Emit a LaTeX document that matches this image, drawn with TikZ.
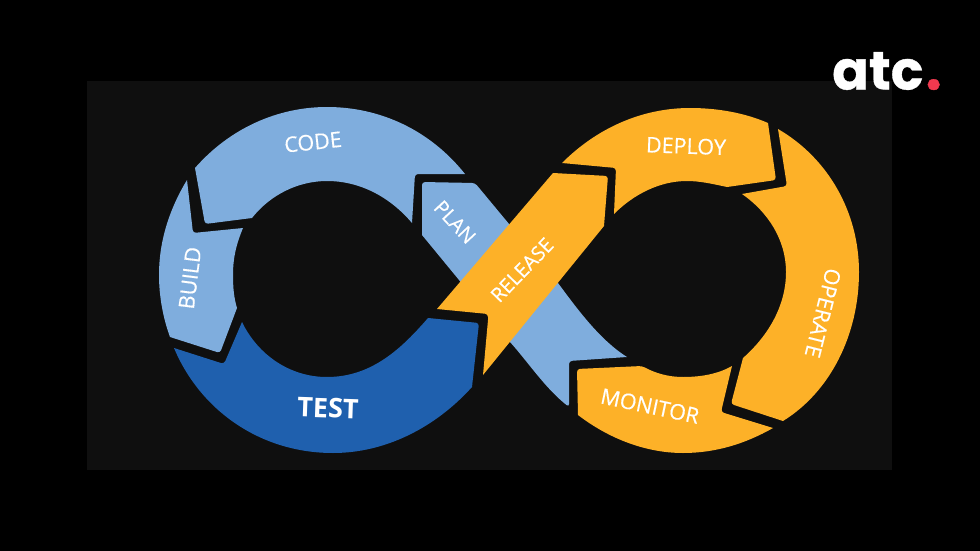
\documentclass[tikz,border=0pt]{standalone}
\usepackage{fontspec}
\setmainfont{Open Sans}[RawFeature={embolden=0.4}]
\newfontfamily\boldlabelfont{Open Sans}
\newfontfamily\logofont{Poppins}[RawFeature={embolden=0.6}]
\usepackage{tikz}
\definecolor{panelgrey}{HTML}{0F0F0F}
\definecolor{lightblue}{HTML}{7FADDD}
\definecolor{darkblue}{HTML}{1F60AE}
\definecolor{amber}{HTML}{FDB128}
\definecolor{dotred}{HTML}{F0394F}
\tikzset{
  seglabel/.style={text=white, inner sep=0pt, font=\fontsize{20}{24}\selectfont},
  wideseg/.style={seglabel, font=\fontsize{21.5}{24}\selectfont},
  corner/.style={rounded corners=3pt}
}

\begin{document}
\begin{tikzpicture}[x=1pt, y=-1pt]
\useasboundingbox (0,0) rectangle (980,551);
\fill[black] (0,0) rectangle (980,551);
\fill[panelgrey] (87,81) rectangle (892,470);

% blue half
\fill[lightblue] (422,235) [corner] -- (422,182) -- (475,183) [sharp corners] -- (558,283)
  .. controls (578,310) and (600,340) .. (627,357) [corner] -- (569,361) -- (569,407) [sharp corners]
  .. controls (545,388) and (528,362) .. (510,342) -- cycle;
\fill[lightblue] (195,168) .. controls (230,128) and (278,107) .. (327,107)
  .. controls (380,107) and (430,130) .. (465,174) [corner] -- (415,174) [sharp corners] -- (412,223)
  .. controls (390,197) and (360,181) .. (327,181)
  .. controls (298,181) and (270,195) .. (252,218) [corner] -- (205,224) [sharp corners] -- cycle;
\fill[lightblue] (187,180) [corner] -- (193,233) [sharp corners] -- (243,228)
  .. controls (236,245) and (233,258) .. (233,275)
  .. controls (233,288) and (234,298) .. (237,308) [corner] -- (220,353) [sharp corners] -- (170,337)
  .. controls (163,318) and (159,296) .. (159,275)
  .. controls (159,240) and (170,208) .. (187,180) -- cycle;
\fill[darkblue] (174,348) [corner] -- (224,364) [sharp corners] -- (242,322)
  .. controls (258,355) and (290,377) .. (327,377)
  .. controls (372,377) and (402,348) .. (428,318) [corner] -- (479,323) [sharp corners] -- (472,387)
  .. controls (435,428) and (385,453) .. (333,453)
  .. controls (260,453) and (200,410) .. (174,348) -- cycle;

% amber half
\fill[amber] (553,173) [corner] -- (608,176) [sharp corners] -- (604,226) -- (483,375) -- (488,320)
  [corner] -- (488,314) [sharp corners] -- (437,309) -- cycle;
\fill[amber] (562,163) .. controls (597,128) and (642,108) .. (690,108)
  .. controls (718,108) and (745,113) .. (768,123) [corner] -- (776,180) [sharp corners] -- (727,187)
  .. controls (713,184) and (700,181) .. (687,181)
  .. controls (660,181) and (634,194) .. (614,214) [corner] -- (616,168) [sharp corners] -- cycle;
\fill[amber] (778,129) .. controls (828,158) and (859,212) .. (859,272)
  .. controls (859,335) and (830,392) .. (783,421) [corner] -- (731,404) [sharp corners] -- (743,358)
  .. controls (769,335) and (786,305) .. (786,272)
  .. controls (786,240) and (768,212) .. (742,194) [corner] -- (787,186) [sharp corners] -- cycle;
\fill[amber] (578,415) [corner] -- (577,369) -- (642,366) [sharp corners]
  .. controls (655,373) and (668,377) .. (683,377)
  .. controls (701,377) and (718,374) .. (732,366) [corner] -- (721,412) [sharp corners] -- (773,428)
  .. controls (745,444) and (715,453) .. (683,453)
  .. controls (645,453) and (608,438) .. (578,415) -- cycle;

% labels
\node[wideseg, rotate=6] (code) at (313,142) {CODE};
\node[wideseg, rotate=83] (build) at (190,278) {BUILD};
\node[seglabel, rotate=-47] (plan) at (455,222) {PLAN};
\node[seglabel, rotate=46] (release) at (522,270) {RELEASE};
\node[wideseg, rotate=-2] (deploy) at (686,146) {DEPLOY};
\node[wideseg, rotate=-104] (operate) at (823,313) {OPERATE};
\node[wideseg, rotate=-12] (monitor) at (650,406) {MONITOR};
\node[seglabel, rotate=-2, font=\boldlabelfont\fontsize{27}{32}\selectfont\bfseries] (test) at (328,408) {TEST};

\node[text=white, inner sep=0pt, anchor=base west, font=\logofont\fontsize{54}{60}\selectfont\bfseries] (logo) at (832,89.5) {atc\kern2pt\textcolor{dotred}{\fontsize{58}{60}\selectfont .}};
\end{tikzpicture}
\end{document}
